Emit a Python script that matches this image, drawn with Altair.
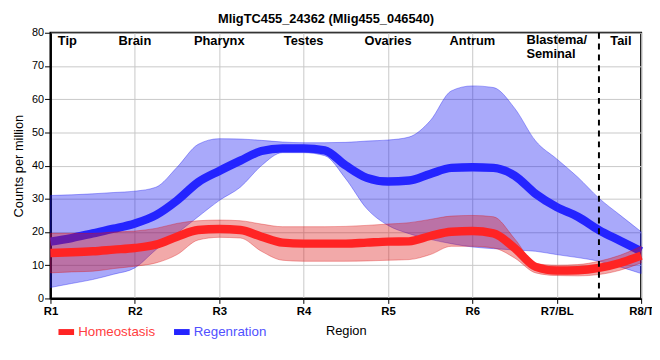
import altair as alt
import pandas as pd

# ---- data ----
x_pos = [1.0, 1.25, 1.5, 1.75, 2.0, 2.25, 2.5, 2.75, 3.0, 3.25, 3.5, 3.75, 4.0, 4.25, 4.5,
         4.75, 5.0, 5.25, 5.5, 5.75, 6.0, 6.25, 6.5, 6.75, 7.0, 7.25, 7.5, 7.75, 8.0]

homeo_mean = [13.7, 13.9, 14.2, 14.7, 15.2, 16.2, 18.6, 20.6, 20.9, 20.6, 18.6, 16.8, 16.5, 16.5, 16.5,
              16.8, 17.1, 17.2, 18.8, 20.1, 20.3, 19.6, 15.2, 9.5, 8.4, 8.5, 9.2, 10.7, 12.9]
homeo_high = [19.6, 19.6, 19.6, 20.0, 20.3, 21.1, 22.6, 23.4, 23.6, 23.4, 22.4, 21.6, 21.6, 21.6, 21.7,
              22.0, 22.4, 22.8, 23.8, 24.8, 25.0, 24.6, 18.0, 10.5, 10.0, 10.2, 11.2, 13.0, 15.7]
homeo_low = [7.7, 8.0, 8.2, 9.0, 9.7, 10.7, 13.2, 17.6, 18.4, 18.2, 14.2, 11.5, 11.2, 11.2, 11.2,
             11.3, 11.5, 11.7, 13.2, 15.7, 15.7, 15.2, 12.2, 7.7, 6.9, 6.8, 7.2, 8.5, 10.7]

regen_mean = [17.1, 18.2, 19.6, 21.0, 22.6, 25.1, 29.5, 35.0, 38.4, 41.5, 44.4, 45.2, 45.2, 44.6, 40.0,
              36.3, 35.2, 35.5, 37.5, 39.3, 39.5, 39.3, 37.0, 31.5, 27.5, 24.6, 20.6, 17.4, 14.2]
regen_high = [31.0, 31.2, 31.5, 31.9, 32.3, 33.5, 39.5, 46.4, 48.1, 48.0, 47.6, 47.1, 46.9, 46.9, 47.0,
              47.4, 47.7, 48.6, 53.5, 62.5, 64.0, 63.5, 57.3, 47.4, 42.0, 36.5, 30.2, 25.1, 20.1]
regen_low = [3.3, 4.5, 5.7, 7.3, 9.2, 14.7, 19.6, 24.6, 29.5, 33.5, 40.0, 43.9, 43.9, 43.0, 36.0,
             27.0, 22.0, 19.5, 17.8, 16.5, 15.5, 15.0, 14.6, 14.2, 13.2, 12.3, 11.2, 9.5, 7.5]

series_names = ["Homeostasis", "Regenration"]
tick_values = [1, 2, 3, 4, 5, 6, 7, 8]
tick_labels = ["R1", "R2", "R3", "R4", "R5", "R6", "R7/BL", "R8/T"]
y_ticks = [0, 10, 20, 30, 40, 50, 60, 70, 80]
region_names = ["Tip", "Brain", "Pharynx", "Testes", "Ovaries", "Antrum", "Tail"]
region_x = [1.2, 2, 3, 4, 5, 6, 7.76]
blastema_name = ["Blastema/", "Seminal"]
blastema_x = [6.64]
divider_x = [7.5]

FONT = "Liberation Sans"
RED_LINE = "#ff2424"
BLUE_LINE = "#2424ff"
RED_BAND = "#dc1010"
BLUE_BAND = "#1010f0"

rows = []
for name, m, lo, hi in [(series_names[0], homeo_mean, homeo_low, homeo_high),
                        (series_names[1], regen_mean, regen_low, regen_high)]:
    for xv, a, b, c in zip(x_pos, m, lo, hi):
        rows.append({"series": name, "x": xv, "mean": a, "low": b, "high": c})
df = pd.DataFrame(rows)
df_h = df[df.series == series_names[0]]
df_r = df[df.series == series_names[1]]

label_expr = "[" + ",".join("'%s'" % t for t in tick_labels) + "][datum.value - 1]"

x_scale = alt.Scale(domain=[1, 8], nice=False, zero=False)
y_scale = alt.Scale(domain=[0, 80], nice=False)
x_axis = alt.Axis(values=tick_values, labelExpr=label_expr, title="Region",
                  labelFontWeight="bold", labelFontSize=11.5, labelColor="black",
                  titleFontWeight="normal", titleFontSize=13, titleColor="black",
                  titlePadding=8, labelPadding=2, tickSize=5, labelOverlap=False,
                  domainColor="black", domainWidth=2, tickColor="black", tickWidth=1,
                  gridColor="#c8c8c8", labelFlush=False)
y_axis = alt.Axis(values=y_ticks, title="Counts per million", labelOverlap=False,
                  labelFontSize=11, labelColor="black", titleFontSize=13,
                  titleFontWeight="normal", titleColor="black", titlePadding=6,
                  labelPadding=1, tickSize=6, domainColor="black", domainWidth=2,
                  tickColor="black", gridColor="#c8c8c8")

x_enc = alt.X("x:Q", scale=x_scale, axis=x_axis)


def band(d, color):
    return alt.Chart(d).mark_area(interpolate="monotone", color=color, fillOpacity=0.36,
                                  stroke=color, strokeWidth=1, strokeOpacity=0.35).encode(
        x=x_enc, y=alt.Y("low:Q", scale=y_scale, axis=y_axis), y2="high:Q")


color_scale = alt.Scale(domain=series_names, range=[RED_LINE, BLUE_LINE])
legend = alt.Legend(title=None, orient="none", legendX=5, legendY=292, direction="horizontal",
                    symbolType="stroke", symbolSize=250, symbolStrokeWidth=6,
                    labelFontSize=13.5, labelFont=FONT, labelOffset=1, columnPadding=6,
                    labelColor={"expr": "datum.label == 'Homeostasis' ? '#ff4040' : '#5050ff'"})


def line(d):
    return alt.Chart(d).mark_line(interpolate="monotone", strokeWidth=8.5, strokeCap="butt").encode(
        x=x_enc, y=alt.Y("mean:Q", scale=y_scale, axis=y_axis),
        color=alt.Color("series:N", scale=color_scale, legend=legend))


regions_df = pd.DataFrame({"name": region_names, "x": region_x})
regions = alt.Chart(regions_df).mark_text(fontWeight="bold", fontSize=13, font=FONT,
                                          baseline="middle", align="center", color="black").encode(
    x=alt.X("x:Q", scale=x_scale), y=alt.value(8.5), text="name:N")

blast_df = pd.DataFrame({"x": blastema_x, "name": ["\n".join(blastema_name)]})
blast = alt.Chart(blast_df).mark_text(fontWeight="bold", fontSize=13, font=FONT, lineBreak="\n",
                                      lineHeight=15, baseline="top", align="left", color="black").encode(
    x=alt.X("x:Q", scale=x_scale), y=alt.value(1), text="name:N")

div_df = pd.DataFrame({"x": divider_x})
divider = alt.Chart(div_df).mark_rule(color="black", strokeWidth=2, strokeDash=[6, 5]).encode(
    x=alt.X("x:Q", scale=x_scale))

chart = alt.layer(
    band(df_r, BLUE_BAND), line(df_r), band(df_h, RED_BAND), line(df_h),
    divider, regions, blast
).properties(
    width=598, height=269,
    title=alt.Title("MligTC455_24362 (Mlig455_046540)", fontSize=13, fontWeight="bold", font=FONT,
                    anchor="middle", frame="group", dx=-20, offset=1, color="black"),
    autosize=alt.AutoSizeParams(type="none"),
    padding={"left": 43, "top": 23, "right": 11, "bottom": 40},
).configure(font=FONT).configure_view(stroke="black", strokeWidth=2)

chart.save("out.html", embed_options={"renderer": "svg", "actions": False})
